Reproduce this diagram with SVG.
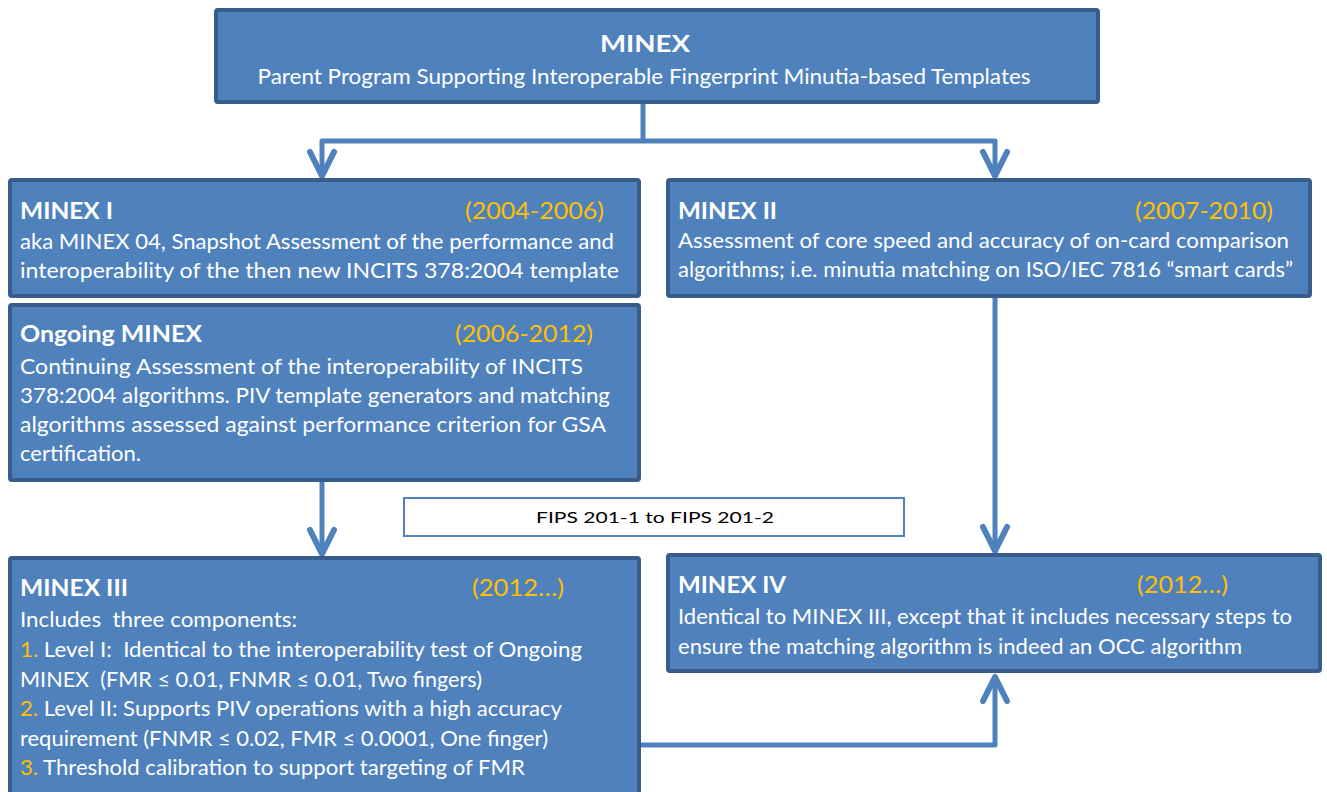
<svg xmlns="http://www.w3.org/2000/svg" width="1327" height="792" viewBox="0 0 1327 792">
<style>
.box{fill:#4F81BD;stroke:#385D8A;stroke-width:4}
.t{font-family:Lato,"Open Sans","Liberation Sans",sans-serif;fill:#FFFFFF;font-size:21px}
.h{font-family:Lato,"Open Sans","Liberation Sans",sans-serif;fill:#FFFFFF;font-size:23px;font-weight:bold}
.y{font-family:Lato,"Open Sans","Liberation Sans",sans-serif;fill:#FFC000;font-size:23px}
.o{fill:#FFC000}
.pre{white-space:pre}
.c{fill:none;stroke:#4F81BD;stroke-width:5;stroke-linejoin:round}
.a{fill:none;stroke:#4F81BD;stroke-width:6;stroke-linecap:round;stroke-linejoin:round}
</style>
<rect width="1327" height="792" fill="#FFFFFF"/>
<g id="connectors">
<path class="c" d="M643,104 V141"/>
<path class="c" d="M322,174 V141 H995 V174"/>
<path class="a" d="M310,152 L322,176 L334,152"/>
<path class="a" d="M983,152 L995,176 L1007,152"/>
<path class="c" d="M322,482 V552"/>
<path class="a" d="M310,530 L322,554 L334,530"/>
<path class="c" d="M995,298 V549"/>
<path class="a" d="M983,527 L995,551 L1007,527"/>
<path class="c" d="M641,745 H995 V679"/>
<path class="a" d="M983,701 L995,677 L1007,701"/>
</g>
<g id="minex">
<rect class="box" x="216" y="10" width="882" height="92" rx="2"/>
<text class="h" x="645" y="52" text-anchor="middle" font-size="26" textLength="90" lengthAdjust="spacingAndGlyphs">MINEX</text>
<text class="t" x="644" y="84" text-anchor="middle" textLength="773" lengthAdjust="spacingAndGlyphs">Parent Program Supporting Interoperable Fingerprint Minutia-based Templates</text>
</g>
<g id="minex1">
<rect class="box" x="10" y="180" width="629" height="116" rx="2"/>
<text class="h" x="20" y="219" textLength="93" lengthAdjust="spacingAndGlyphs">MINEX I</text>
<text class="y" x="465" y="219" textLength="139" lengthAdjust="spacingAndGlyphs">(2004-2006)</text>
<text class="t" x="20" y="249" textLength="594" lengthAdjust="spacingAndGlyphs">aka MINEX 04, Snapshot Assessment of the performance and</text>
<text class="t" x="20" y="278" textLength="599" lengthAdjust="spacingAndGlyphs">interoperability of the then new INCITS 378:2004 template</text>
</g>
<g id="ongoing">
<rect class="box" x="10" y="305" width="629" height="175" rx="2"/>
<text class="h" x="20" y="342" textLength="182" lengthAdjust="spacingAndGlyphs">Ongoing MINEX</text>
<text class="y" x="455" y="342" textLength="138" lengthAdjust="spacingAndGlyphs">(2006-2012)</text>
<text class="t" x="20" y="374" textLength="563" lengthAdjust="spacingAndGlyphs">Continuing Assessment of the interoperability of INCITS</text>
<text class="t" x="20" y="403" textLength="590" lengthAdjust="spacingAndGlyphs">378:2004 algorithms. PIV template generators and matching</text>
<text class="t" x="20" y="432" textLength="586" lengthAdjust="spacingAndGlyphs">algorithms assessed against performance criterion for GSA</text>
<text class="t" x="20" y="461" textLength="121" lengthAdjust="spacingAndGlyphs">certification.</text>
</g>
<g id="minex2">
<rect class="box" x="668" y="180" width="642" height="116" rx="2"/>
<text class="h" x="678" y="219" textLength="99" lengthAdjust="spacingAndGlyphs">MINEX II</text>
<text class="y" x="1135" y="219" textLength="138" lengthAdjust="spacingAndGlyphs">(2007-2010)</text>
<text class="t" x="678" y="248" textLength="611" lengthAdjust="spacingAndGlyphs">Assessment of core speed and accuracy of on-card comparison</text>
<text class="t" x="678" y="277" textLength="615" lengthAdjust="spacingAndGlyphs">algorithms; i.e. minutia matching on ISO/IEC 7816 “smart cards”</text>
</g>
<g id="fips">
<rect x="404" y="498" width="500" height="38" fill="#FFFFFF" stroke="#4F81BD" stroke-width="2"/>
<text x="655" y="523" text-anchor="middle" font-family="Lato,'Open Sans','Liberation Sans',sans-serif" font-size="16" fill="#000000" textLength="238" lengthAdjust="spacingAndGlyphs">FIPS 201-1 to FIPS 201-2</text>
</g>
<g id="minex3">
<rect class="box" x="10" y="558" width="629" height="240" rx="2"/>
<text class="h" x="20" y="596" textLength="108" lengthAdjust="spacingAndGlyphs">MINEX III</text>
<text class="y" x="472" y="596" textLength="92" lengthAdjust="spacingAndGlyphs">(2012…)</text>
<text class="t pre" x="20" y="627" textLength="277" lengthAdjust="spacingAndGlyphs">Includes  three components:</text>
<text class="t pre" x="20" y="657" textLength="562" lengthAdjust="spacingAndGlyphs"><tspan class="o">1.</tspan> Level I:  Identical to the interoperability test of Ongoing</text>
<text class="t pre" x="20" y="687" textLength="462" lengthAdjust="spacingAndGlyphs">MINEX  (FMR ≤ 0.01, FNMR ≤ 0.01, Two fingers)</text>
<text class="t" x="20" y="716" textLength="542" lengthAdjust="spacingAndGlyphs"><tspan class="o">2.</tspan> Level II: Supports PIV operations with a high accuracy</text>
<text class="t" x="20" y="746" textLength="528" lengthAdjust="spacingAndGlyphs">requirement (FNMR ≤ 0.02, FMR ≤ 0.0001, One finger)</text>
<text class="t" x="20" y="775" textLength="505" lengthAdjust="spacingAndGlyphs"><tspan class="o">3.</tspan> Threshold calibration to support targeting of FMR</text>
</g>
<g id="minex4">
<rect class="box" x="668" y="555" width="652" height="116" rx="2"/>
<text class="h" x="678" y="593" textLength="108" lengthAdjust="spacingAndGlyphs">MINEX IV</text>
<text class="y" x="1137" y="593" textLength="91" lengthAdjust="spacingAndGlyphs">(2012…)</text>
<text class="t" x="678" y="624" textLength="614" lengthAdjust="spacingAndGlyphs">Identical to MINEX III, except that it includes necessary steps to</text>
<text class="t" x="678" y="654" textLength="564" lengthAdjust="spacingAndGlyphs">ensure the matching algorithm is indeed an OCC algorithm</text>
</g>
</svg>
